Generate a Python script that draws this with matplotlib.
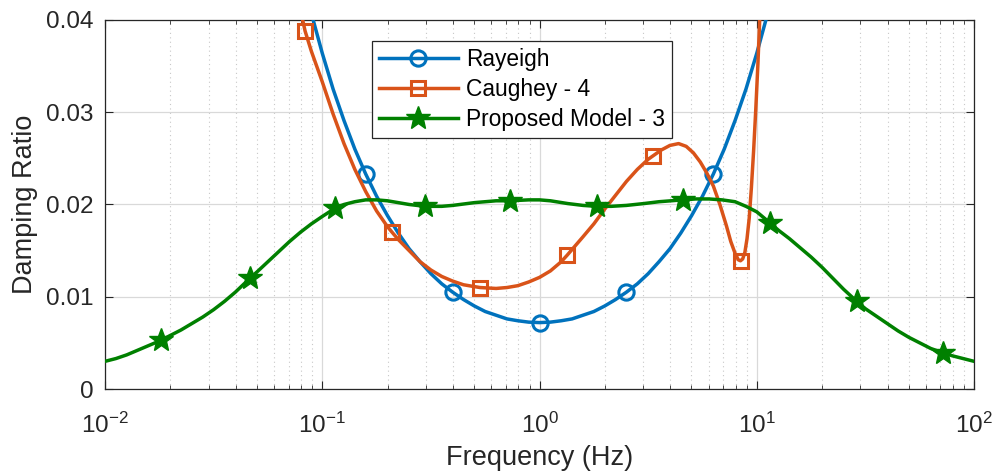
import numpy as np
import matplotlib
matplotlib.use("Agg")
import matplotlib.pyplot as plt
from matplotlib.ticker import FuncFormatter, LogLocator, NullFormatter

plt.rcParams['font.family'] = ['Liberation Sans', 'DejaVu Sans']
plt.rcParams['mathtext.fontset'] = 'custom'
plt.rcParams['mathtext.rm'] = 'Liberation Sans'

# Rayleigh damping (log10 frequency, damping ratio)
ray_logf = [-1.05, -1.0, -0.95, -0.9, -0.85, -0.8, -0.75, -0.7, -0.65, -0.6, -0.55, -0.5, -0.45, -0.4,
            -0.35, -0.3, -0.25, -0.2, -0.15, -0.1, -0.05, 0.0, 0.05, 0.1, 0.15, 0.2, 0.25, 0.3, 0.35,
            0.4, 0.45, 0.5, 0.55, 0.6, 0.65, 0.7, 0.75, 0.8, 0.85, 0.9, 0.95, 1.0, 1.05]
ray_zeta = [0.0407, 0.0364, 0.0325, 0.0291, 0.0260, 0.0233, 0.0209, 0.0188, 0.0169, 0.0152, 0.0138, 0.0125, 0.0114, 0.0105,
            0.0097, 0.0090, 0.0084, 0.0080, 0.0076, 0.0074, 0.00725, 0.0072, 0.00725, 0.0074, 0.0076, 0.0080, 0.0084, 0.0090, 0.0097,
            0.0105, 0.0114, 0.0125, 0.0138, 0.0152, 0.0169, 0.0188, 0.0209, 0.0233, 0.0260, 0.0291, 0.0325, 0.0364, 0.0407]
ray_mark_logf = [-0.8, -0.4, 0.0, 0.4, 0.8]

# Caughey - 4
cau_logf = [-1.095, -1.079, -1.05, -1.0, -0.95, -0.9, -0.85, -0.8, -0.75, -0.7, -0.679, -0.65, -0.6, -0.55,
            -0.5, -0.45, -0.4, -0.35, -0.3, -0.274, -0.2, -0.15, -0.1, -0.05, 0.0, 0.05, 0.1, 0.127, 0.2,
            0.25, 0.3, 0.35, 0.4, 0.45, 0.5, 0.524, 0.56, 0.6, 0.64, 0.675, 0.708, 0.74, 0.77, 0.8, 0.83,
            0.86, 0.88, 0.9, 0.915, 0.925, 0.935, 0.945, 0.955, 0.965, 0.975, 0.985, 0.995, 1.005, 1.015]
cau_zeta = [0.0405, 0.0388, 0.0366, 0.0333, 0.0298, 0.0266, 0.0238, 0.0214, 0.0193, 0.0176, 0.0170, 0.0162, 0.0150, 0.0138,
            0.0129, 0.0122, 0.0117, 0.0113, 0.0111, 0.0110, 0.0109, 0.0110, 0.0112, 0.0116, 0.0121, 0.0128, 0.0138, 0.0145, 0.0165,
            0.0179, 0.0195, 0.0210, 0.0225, 0.0238, 0.0249, 0.0253, 0.0259, 0.0264, 0.0266, 0.0263, 0.0256, 0.0246, 0.0234, 0.0220, 0.0200,
            0.0177, 0.0160, 0.0147, 0.0140, 0.0139, 0.0141, 0.0148, 0.0163, 0.0185, 0.0218, 0.0257, 0.0302, 0.0352, 0.0410]
cau_mark_logf = [-1.079, -0.679, -0.274, 0.127, 0.524, 0.925]

# Proposed Model - 3
pm_logf = [-2.0, -1.95, -1.9, -1.85, -1.8, -1.74, -1.7, -1.65, -1.6, -1.55, -1.5, -1.45, -1.4, -1.333,
           -1.3, -1.25, -1.2, -1.15, -1.1, -1.05, -1.0, -0.941, -0.9, -0.85, -0.8, -0.75, -0.7, -0.65,
           -0.6, -0.527, -0.45, -0.4, -0.3, -0.2, -0.136, -0.05, 0.0, 0.05, 0.13, 0.2, 0.263, 0.33,
           0.4, 0.48, 0.55, 0.66, 0.72, 0.78, 0.84, 0.9, 0.95, 1.0, 1.061, 1.1, 1.15, 1.2, 1.25,
           1.3, 1.35, 1.4, 1.46, 1.5, 1.55, 1.6, 1.65, 1.7, 1.75, 1.8, 1.859, 1.9, 1.95, 2.0]
pm_zeta = [0.0030, 0.0033, 0.0037, 0.0042, 0.0047, 0.0053, 0.0058, 0.0064, 0.0071, 0.0078, 0.0086, 0.0095, 0.0105, 0.0120,
           0.0127, 0.0138, 0.0149, 0.0160, 0.0170, 0.0179, 0.0187, 0.0196, 0.0200, 0.0203, 0.0205, 0.0205, 0.0204, 0.0202,
           0.0200, 0.0198, 0.0198, 0.0199, 0.0202, 0.0204, 0.0204, 0.0205, 0.0205, 0.0204, 0.0201, 0.0199, 0.0198, 0.0198,
           0.0199, 0.0201, 0.0203, 0.0205, 0.0206, 0.0206, 0.0205, 0.0203, 0.0198, 0.0192, 0.0180, 0.0172, 0.0163, 0.0153, 0.0143,
           0.0132, 0.0120, 0.0108, 0.0095, 0.0087, 0.0079, 0.0071, 0.0063, 0.0056, 0.0050, 0.0044, 0.0039, 0.0036, 0.0033, 0.0030]
pm_mark_logf = [-1.74, -1.333, -0.941, -0.527, -0.136, 0.263, 0.66, 1.061, 1.46, 1.859]

series_labels = ['Rayeigh', 'Caughey - 4', 'Proposed Model - 3']
yticks = [0, 0.01, 0.02, 0.03, 0.04]

fig = plt.figure(figsize=(9.96, 4.75), dpi=100)
ax = fig.add_axes([0.1054, 0.181, 0.8726, 0.777])

blue = '#0072BD'
orange = '#D95319'
green = '#008000'

def marks(xs, ms):
    return [xs.index(m) for m in ms]

ax.plot(10 ** np.array(ray_logf), ray_zeta, color=blue, lw=2.5, marker='o', ms=11,
        mfc='none', mew=2.2, markevery=marks(ray_logf, ray_mark_logf), label=series_labels[0], zorder=3)
ax.plot(10 ** np.array(cau_logf), cau_zeta, color=orange, lw=2.5, marker='s', ms=10.5,
        mfc='none', mew=2.2, markevery=marks(cau_logf, cau_mark_logf), label=series_labels[1], zorder=3)
ax.plot(10 ** np.array(pm_logf), pm_zeta, color=green, lw=2.5, marker='*', ms=18,
        mfc=green, mec=green, markevery=marks(pm_logf, pm_mark_logf), label=series_labels[2], zorder=3)

ax.set_xscale('log')
ax.set_xlim(1e-2, 1e2)
ax.set_ylim(0, 0.04)
ax.set_yticks(yticks)
ax.yaxis.set_major_formatter(FuncFormatter(lambda v, p: '%g' % v))
ax.xaxis.set_minor_locator(LogLocator(base=10, subs=np.arange(2, 10), numticks=20))
ax.xaxis.set_minor_formatter(NullFormatter())

ax.grid(True, which='major', color='#d9d9d9', lw=0.9, ls='-')
ax.grid(True, which='minor', axis='x', color='#c8c8c8', lw=0.8, ls=(0, (1, 3)))
ax.set_axisbelow(True)

ax.tick_params(which='both', direction='in', top=True, right=True, colors='#262626',
               labelcolor='#262626', labelsize=17.5)
ax.tick_params(which='major', length=6, width=0.8)
ax.tick_params(which='minor', length=3, width=0.6)
ax.tick_params(axis='x', pad=17)
ax.tick_params(axis='y', pad=8)
for s in ax.spines.values():
    s.set_color('#262626')
    s.set_linewidth(0.9)

ax.set_xlabel('Frequency (Hz)', fontsize=19.5, color='#262626', labelpad=5)
ax.set_ylabel('Damping Ratio', fontsize=19.5, color='#262626', labelpad=6)

leg = ax.legend(loc='upper left', bbox_to_anchor=(0.307, 0.942), fontsize=16.4,
                handlelength=3.5, handletextpad=0.35, borderpad=0.3, labelspacing=0.3,
                fancybox=False, framealpha=1, edgecolor='#262626', borderaxespad=0)
leg.get_frame().set_linewidth(0.9)

fig.savefig('out.png', dpi=100)
